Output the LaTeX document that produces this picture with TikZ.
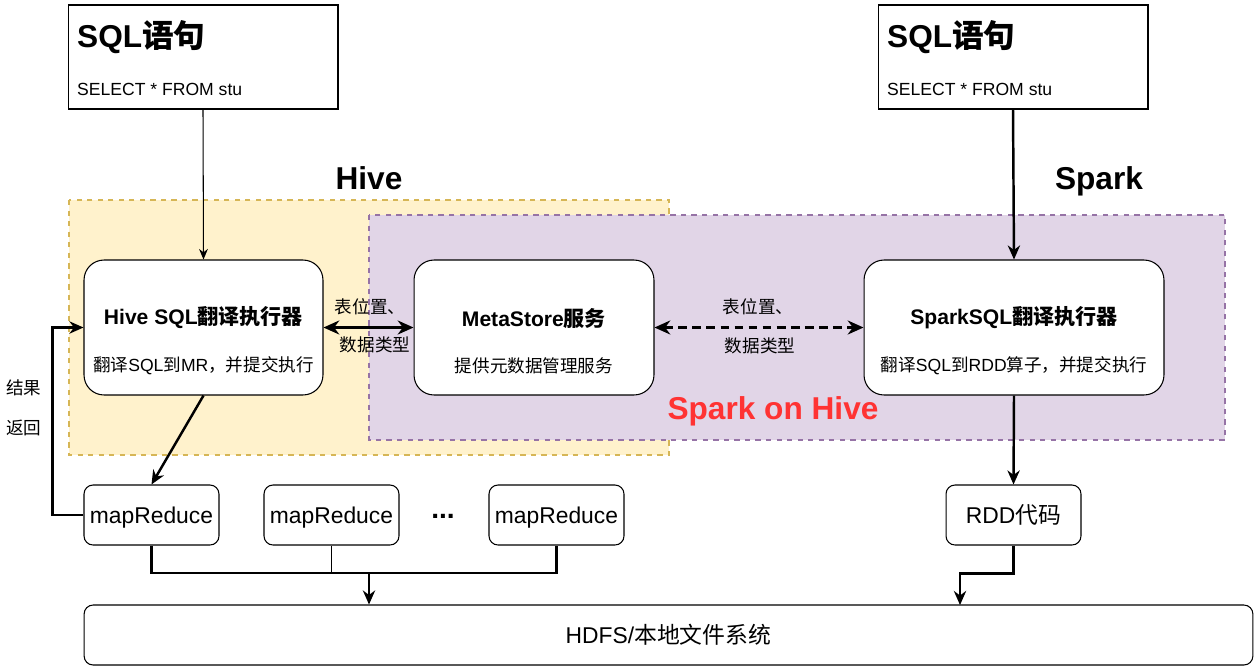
\documentclass[tikz,border=0pt]{standalone}
\usepackage{fontspec}
\setmainfont{Liberation Sans}
\newfontfamily\cjk{Noto Sans CJK SC}
\newcommand{\zh}[1]{{\cjk #1}}
\usepackage{tikz}
\usetikzlibrary{arrows.meta}
\usetikzlibrary{positioning}

\definecolor{hiveFill}{HTML}{FFF2CC}
\definecolor{hiveLine}{HTML}{D6B656}
\definecolor{sohFill}{HTML}{E1D5E7}
\definecolor{sohLine}{HTML}{9673A6}
\definecolor{sohRed}{HTML}{FF3333}

\tikzset{
	sqlbox/.style = {draw, line width = 0.6pt, minimum width = 5.4cm, minimum height = 2.08cm, inner sep = 0pt},
	execbox/.style = {draw, line width = 0.6pt, fill = white, rounded corners = 0.4cm, minimum height = 2.7cm, inner sep = 0pt},
	smallbox/.style = {draw, line width = 0.6pt, fill = white, rounded corners = 0.18cm, minimum width = 2.7cm, minimum height = 1.2cm, inner sep = 0pt, font = \fontsize{13}{15}\selectfont},
	bigtitle/.style = {font = \fontsize{18}{20}\selectfont\bfseries},
	boxtitle/.style = {font = \fontsize{12}{14}\selectfont\bfseries},
	boxsub/.style = {font = \fontsize{10}{12}\selectfont},
	thin arrow/.style = {-{Stealth[length = 6pt, width = 5pt]}, line width = 0.6pt},
	thick line/.style = {line width = 1.4pt},
	thick arrow/.style = {thick line, -{Stealth[length = 8pt, width = 7pt]}},
	both arrow/.style = {thick line, {Stealth[length = 9pt, width = 8pt]}-{Stealth[length = 9pt, width = 8pt]}}
}

\begin{document}
\begin{tikzpicture}[x = 0.02cm, y = -0.02cm]
			%\draw[help lines] (0,0) grid (1257,670);
			\useasboundingbox (0, 0) rectangle (1257, 670);
			
			% areas
			\draw[fill = hiveFill, draw = hiveLine, dashed, line width = 0.6pt] (69, 200) rectangle (669, 455);
			\draw[fill = sohFill, draw = sohLine, dashed, line width = 0.6pt] (369, 215) rectangle (1225, 440);
			\node[bigtitle] (hiveLabel) at (369, 178) {Hive};
			\node[bigtitle] (sparkLabel) at (1099, 181) {Spark};
			\node[bigtitle, text = sohRed] (sohLabel) at (773, 411) {Spark on Hive};
			
			% sql statements
			\node[sqlbox] (sqlL) at (203, 57) {};
			\node[bigtitle, anchor = west] (sqlLt) at (71, 37) {SQL\zh{语句}};
			\node[boxsub, anchor = west] (sqlLc) at (71, 89) {SELECT * FROM stu};
			\node[sqlbox] (sqlR) at (1013, 57) {};
			\node[bigtitle, anchor = west] (sqlRt) at (881, 37) {SQL\zh{语句}};
			\node[boxsub, anchor = west] (sqlRc) at (881, 89) {SELECT * FROM stu};
			
			% executors
			\node[execbox, minimum width = 4.78cm] (hiveSql) at (203.5, 327.5) {};
			\node[boxtitle] (hiveSqlT) at (203.5, 318) {Hive SQL\zh{翻译执行器}};
			\node[boxsub] (hiveSqlS) at (203.5, 366) {\zh{翻译}SQL\zh{到}MR\zh{，并提交执行}};
			\node[execbox, minimum width = 4.8cm] (meta) at (534, 327.5) {};
			\node[boxtitle] (metaT) at (534, 318) {MetaStore\zh{服务}};
			\node[boxsub] (metaS) at (534, 366) {\zh{提供元数据管理服务}};
			\node[execbox, minimum width = 6cm] (sparkSql) at (1014, 327.5) {};
			\node[boxtitle] (sparkSqlT) at (1014, 318) {SparkSQL\zh{翻译执行器}};
			\node[boxsub] (sparkSqlS) at (1014, 366) {\zh{翻译}SQL\zh{到}RDD\zh{算子，并提交执行}};
			
			% jobs
			\node[smallbox, text depth = 0pt] (mr1) at (151.5, 515) {mapReduce};
			\node[smallbox, text depth = 0pt] (mr2) at (331.5, 515) {mapReduce};
			\node[smallbox, text depth = 0pt] (mr3) at (556.5, 515) {mapReduce};
			\node[font = \fontsize{16}{18}\selectfont\bfseries] (dots) at (443, 516) {...};
			\node[smallbox] (rdd) at (1013.5, 515) {RDD\zh{代码}};
			\node[smallbox, minimum width = 23.38cm] (hdfs) at (668.5, 635) {HDFS/\zh{本地文件系统}};
			
			% connectors
			\draw[thin arrow] (sqlL.south) -- (hiveSql.north);
			\draw[thick arrow] (sqlR.south) -- (sparkSql.north);
			\draw[both arrow] (hiveSql.east) -- (meta.west);
			\node[boxsub] (locA) at (370, 307) {\zh{表位置、}};
			\node[boxsub] (typeA) at (375, 345) {\zh{数据类型}};
			\draw[both arrow, dash pattern = on 5pt off 3pt] (meta.east) -- (sparkSql.west);
			\node[boxsub] (locB) at (758, 307) {\zh{表位置、}};
			\node[boxsub] (typeB) at (760, 346) {\zh{数据类型}};
			
			\draw[thick arrow] (hiveSql.south) -- (mr1.north);
			\draw[thick arrow] (mr1.west) -- ++(-31, 0) |- (hiveSql.west);
			\node[boxsub] (ret1) at (24, 388) {\zh{结果}};
			\node[boxsub] (ret2) at (24, 428) {\zh{返回}};
			
			\coordinate (join) at (369, 573);
			\draw[thick line] (mr1.south) |- (join) -| (mr3.south);
			\draw[line width = 0.6pt] (mr2.south) -- (mr2.south |- join);
			\draw[thick arrow] (join) -- (join |- hdfs.north);
			
			\draw[thick arrow] (sparkSql.south) -- (rdd.north);
			\coordinate (rddIn) at (960, 605);
			\draw[thick arrow] (rdd.south) -- ++(0, 28) -| (rddIn);
			
		\end{tikzpicture}
\end{document}
